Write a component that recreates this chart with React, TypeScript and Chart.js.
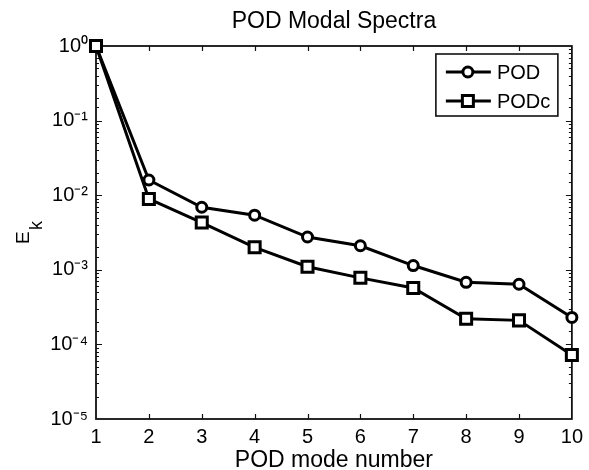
import React, { useEffect, useRef } from "react";
import { Chart, registerables } from "chart.js";

Chart.register(...registerables);

const MODES = [1, 2, 3, 4, 5, 6, 7, 8, 9, 10];
const POD = [1.0, 0.016, 0.0069, 0.0054, 0.00275, 0.0021, 0.00114, 0.00068, 0.00064, 0.00023];
const PODC = [1.0, 0.0089, 0.0043, 0.002, 0.0011, 0.00078, 0.00057, 0.00022, 0.00021, 0.000072];
const SERIES_NAMES = ["POD", "PODc"];
const TITLE = "POD Modal Spectra";
const X_TITLE = "POD mode number";
const Y_TITLE_MAIN = "E";
const Y_TITLE_SUB = "k";

const FONT = "'Liberation Sans', Arial, Helvetica, sans-serif";
const SUP: Record<string, string> = {
  "0": "\u2070", "1": "\u00b9", "2": "\u00b2", "3": "\u00b3", "4": "\u2074",
  "5": "\u2075", "6": "\u2076", "7": "\u2077", "8": "\u2078", "9": "\u2079", "-": "\u207b",
};
const toSup = (s: string) => s.split("").map((c) => SUP[c] ?? c).join("");

const isDecade = (v: number) => {
  const l = Math.log10(v);
  return Math.abs(l - Math.round(l)) < 1e-9;
};

function drawMarker(ctx: CanvasRenderingContext2D, style: string, x: number, y: number) {
  ctx.beginPath();
  if (style === "circle") {
    ctx.arc(x, y, 5, 0, Math.PI * 2);
  } else {
    ctx.rect(x - 5.5, y - 5.5, 11, 11);
  }
  ctx.fillStyle = "#fff";
  ctx.fill();
  ctx.stroke();
}

const framePlugin = {
  id: "frame",
  beforeDatasetsDraw(chart: any) {
    const { ctx, chartArea, scales } = chart;
    const { left, right, top, bottom } = chartArea;
    const x = scales.x;
    const y = scales.y;
    ctx.save();
    ctx.strokeStyle = "#111";
    ctx.lineWidth = 1.8;
    ctx.strokeRect(left, top, right - left, bottom - top);
    ctx.lineWidth = 1.2;
    ctx.beginPath();
    for (const t of x.ticks) {
      if (t.value <= x.min || t.value >= x.max) continue;
      const px = Math.round(x.getPixelForValue(t.value)) + 0.5;
      ctx.moveTo(px, bottom);
      ctx.lineTo(px, bottom - 5);
      ctx.moveTo(px, top);
      ctx.lineTo(px, top + 5);
    }
    for (const t of y.ticks) {
      if (t.value <= y.min || t.value >= y.max) continue;
      const py = Math.round(y.getPixelForValue(t.value)) + 0.5;
      const len = isDecade(t.value) ? 6 : 3;
      ctx.moveTo(left, py);
      ctx.lineTo(left + len, py);
      ctx.moveTo(right, py);
      ctx.lineTo(right - len, py);
    }
    ctx.stroke();
    ctx.restore();
  },
  afterDatasetsDraw(chart: any) {
    const { ctx, chartArea } = chart;
    const { right, top } = chartArea;
    ctx.save();
    // legend
    const bw = 122, bh = 62;
    const bx = right - 14 - bw;
    const by = top + 8;
    ctx.fillStyle = "#fff";
    ctx.fillRect(bx, by, bw, bh);
    ctx.strokeStyle = "#111";
    ctx.lineWidth = 1.6;
    ctx.strokeRect(bx, by, bw, bh);
    chart.data.datasets.forEach((ds: any, i: number) => {
      const ry = by + 18 + i * 29;
      ctx.strokeStyle = "#000";
      ctx.lineWidth = 3;
      ctx.beginPath();
      ctx.moveTo(bx + 10, ry);
      ctx.lineTo(bx + 55, ry);
      ctx.stroke();
      drawMarker(ctx, ds.pointStyle, bx + 32, ry);
      ctx.fillStyle = "#000";
      ctx.font = `20px ${FONT}`;
      ctx.textAlign = "left";
      ctx.textBaseline = "middle";
      ctx.fillText(ds.label, bx + 61, ry + 1);
    });
    // y title with subscript
    ctx.translate(29, 244);
    ctx.rotate(-Math.PI / 2);
    ctx.fillStyle = "#000";
    ctx.textAlign = "left";
    ctx.textBaseline = "alphabetic";
    ctx.font = `19px ${FONT}`;
    ctx.fillText(Y_TITLE_MAIN, 0, 0);
    ctx.font = `18px ${FONT}`;
    ctx.fillText(Y_TITLE_SUB, 14, 13);
    ctx.restore();
  },
};

export default function App() {
  const ref = useRef<HTMLCanvasElement>(null);
  useEffect(() => {
    if (!ref.current) return;
    const mk = (vals: number[]) => MODES.map((m, i) => ({ x: m, y: vals[i] }));
    const common = {
      borderColor: "#000",
      borderWidth: 3,
      pointRadius: 5,
      pointBorderWidth: 3,
      pointBackgroundColor: "#fff",
      pointBorderColor: "#000",
      tension: 0,
      clip: false as any,
    };
    const chart = new Chart(ref.current, {
      type: "line",
      data: {
        datasets: [
          { ...common, label: SERIES_NAMES[0], data: mk(POD), pointStyle: "circle", order: 1 },
          { ...common, label: SERIES_NAMES[1], data: mk(PODC), pointStyle: "rect", pointRadius: 7.8, order: 0 },
        ],
      },
      options: {
        animation: false,
        responsive: false,
        devicePixelRatio: 1,
        layout: { padding: { left: 0, right: 16, top: 0, bottom: 0 } },
        plugins: {
          legend: { display: false },
          tooltip: { enabled: false },
          title: {
            display: true,
            text: TITLE,
            fullSize: false,
            color: "#000",
            font: { family: FONT, size: 23, weight: "normal", lineHeight: 1 },
            padding: { top: 10, bottom: 13 },
          },
        },
        scales: {
          x: {
            type: "linear",
            min: 1,
            max: 10,
            grid: { display: false, drawTicks: false },
            border: { display: false },
            ticks: {
              stepSize: 1,
              color: "#000",
              padding: 6,
              font: { family: FONT, size: 20 },
              autoSkip: false,
              maxRotation: 0,
            },
            title: {
              display: true,
              text: X_TITLE,
              color: "#000",
              font: { family: FONT, size: 23, lineHeight: 0.85 },
              padding: { top: 0, bottom: 0 },
            },
            afterFit: (s: any) => {
              s.height = 51;
            },
          },
          y: {
            type: "logarithmic",
            min: 1e-5,
            max: 1,
            grid: { display: false, drawTicks: false },
            border: { display: false },
            ticks: {
              color: "#000",
              padding: 8,
              autoSkip: false,
              font: { family: FONT, size: 20 },
              callback: (v: any) => {
                const n = Number(v);
                if (!isDecade(n)) return "";
                return "10" + toSup(String(Math.round(Math.log10(n))));
              },
            },
            afterFit: (s: any) => {
              s.width = 96;
            },
          },
        },
      },
      plugins: [framePlugin],
    });
    return () => chart.destroy();
  }, []);
  return (
    <div style={{ position: "absolute", left: 0, top: 0, width: 589, height: 470, background: "#fff" }}>
      <canvas ref={ref} width={589} height={470} />
    </div>
  );
}
